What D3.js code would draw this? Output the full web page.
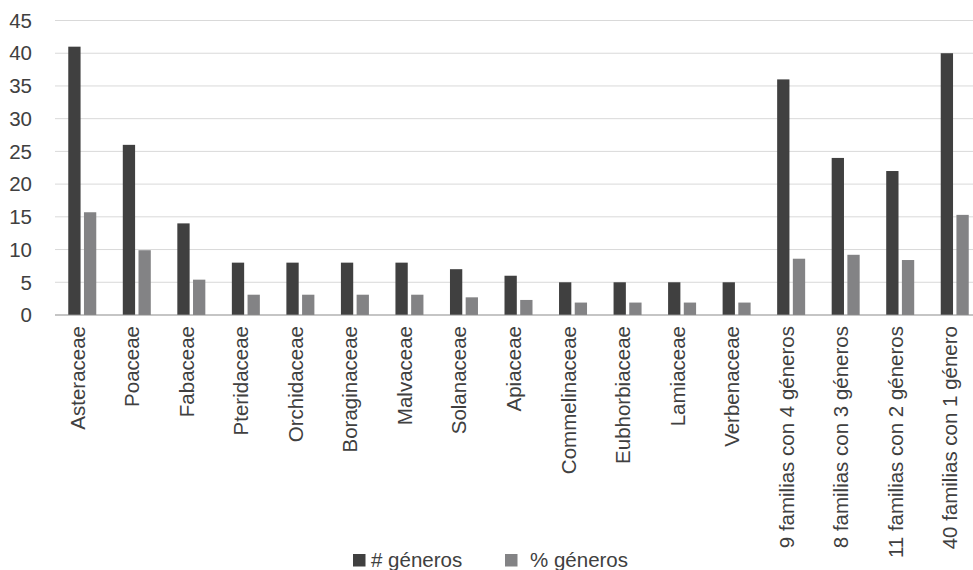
<!DOCTYPE html>
<html>
<head>
<meta charset="utf-8">
<script src="https://cdn.jsdelivr.net/npm/d3@7"></script>
<style>
  html, body { margin: 0; padding: 0; background: #ffffff; }
  svg { display: block; font-family: "Liberation Sans", Arial, sans-serif; }
</style>
</head>
<body>
<svg id="chart" width="973" height="570"></svg>
<script>
// Families and genus counts
const categories = [
  "Asteraceae", "Poaceae", "Fabaceae", "Pteridaceae", "Orchidaceae",
  "Boraginaceae", "Malvaceae", "Solanaceae", "Apiaceae", "Commelinaceae",
  "Eubhorbiaceae", "Lamiaceae", "Verbenaceae",
  "9 familias con 4 géneros", "8 familias con 3 géneros",
  "11 familias con 2 géneros", "40 familias con 1 género"
];
const numGeneros = [41, 26, 14, 8, 8, 8, 8, 7, 6, 5, 5, 5, 5, 36, 24, 22, 40];
const pctGeneros = [15.7, 9.9, 5.4, 3.1, 3.1, 3.1, 3.1, 2.7, 2.3, 1.9, 1.9, 1.9, 1.9, 8.6, 9.2, 8.4, 15.3];
const seriesNames = ["# géneros", "% géneros"];
const yTicks = [0, 5, 10, 15, 20, 25, 30, 35, 40, 45];

const colors = ["#404040", "#838385"];
const textColor = "#404040";
const fontSize = 20.5;

const svg = d3.select("#chart");
const plotLeft = 55, plotRight = 982, plotTop = 20.5, plotBottom = 315;

const x = d3.scaleBand().domain(categories).range([plotLeft, plotRight]).paddingInner(0).paddingOuter(0);
const y = d3.scaleLinear().domain([0, 45]).range([plotBottom, plotTop]);

const barW = 12.3, barGap = 3.4;
const groupW = barW * 2 + barGap;

// Horizontal gridlines
svg.append("g")
  .selectAll("line")
  .data(yTicks.filter(d => d > 0))
  .join("line")
  .attr("x1", plotLeft).attr("x2", plotRight)
  .attr("y1", d => y(d)).attr("y2", d => y(d))
  .attr("stroke", "#d9d9d9").attr("stroke-width", 1);

// Y axis labels
const yAxis = d3.axisLeft(y).tickValues(yTicks).tickSize(0).tickPadding(0);
const gy = svg.append("g").attr("transform", "translate(32,0)").call(yAxis);
gy.select(".domain").remove();
gy.selectAll("text")
  .attr("font-size", fontSize)
  .attr("font-family", "Liberation Sans, Arial, sans-serif")
  .attr("fill", textColor)
  .attr("dy", "0.33em");

// Bars
const rows = categories.map((c, i) => ({ c, vals: [numGeneros[i], pctGeneros[i]] }));
const groups = svg.append("g").selectAll("g")
  .data(rows)
  .join("g")
  .attr("transform", d => `translate(${x(d.c) + (x.bandwidth() - groupW) / 2},0)`);
groups.selectAll("rect")
  .data(d => d.vals.map((v, k) => ({ v, k })))
  .join("rect")
  .attr("x", d => d.k * (barW + barGap))
  .attr("width", barW)
  .attr("y", d => y(d.v))
  .attr("height", d => y(0) - y(d.v))
  .attr("fill", d => colors[d.k]);

// Category axis
svg.append("line")
  .attr("x1", plotLeft).attr("x2", plotRight)
  .attr("y1", plotBottom).attr("y2", plotBottom)
  .attr("stroke", "#8c8c8c").attr("stroke-width", 1.2);

svg.append("g")
  .selectAll("text")
  .data(categories)
  .join("text")
  .attr("transform", d => `translate(${x(d) + x.bandwidth() / 2 + 2.5},${plotBottom + 11}) rotate(-90)`)
  .attr("text-anchor", "end")
  .attr("font-size", fontSize)
  .attr("fill", textColor)
  .text(d => d);

// Legend
const legend = svg.append("g");
const legendItems = [
  { name: seriesNames[0], color: colors[0], sx: 353, tx: 371 },
  { name: seriesNames[1], color: colors[1], sx: 505, tx: 530 }
];
legend.selectAll("rect")
  .data(legendItems)
  .join("rect")
  .attr("x", d => d.sx).attr("y", 554)
  .attr("width", 12.5).attr("height", 12.5)
  .attr("fill", d => d.color);
legend.selectAll("text")
  .data(legendItems)
  .join("text")
  .attr("x", d => d.tx).attr("y", 567)
  .attr("font-size", fontSize)
  .attr("fill", textColor)
  .text(d => d.name);
</script>
</body>
</html>
